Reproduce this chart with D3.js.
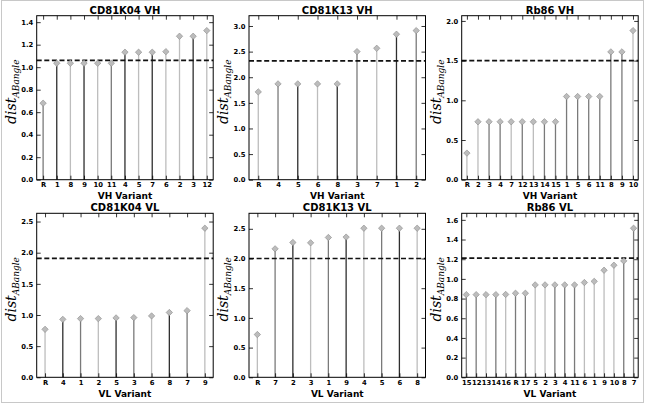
<!DOCTYPE html>
<html>
<head>
<meta charset="utf-8">
<script src="https://cdn.jsdelivr.net/npm/d3@7"></script>
<style>
  html, body { margin: 0; padding: 0; background: #fff; }
  svg { display: block; }
</style>
</head>
<body>
<svg id="chart"></svg>
<script>
// Per-panel data: category order, stem heights, stem tone group, threshold
const k04VhLabels = ["R", "1", "8", "9", "10", "11", "4", "5", "7", "6", "2", "3", "12"]
const k04VhValues = [0.68, 1.035, 1.035, 1.035, 1.035, 1.035, 1.133, 1.133, 1.133, 1.138, 1.275, 1.275, 1.325]
const k04VhTone = ["m", "d", "l", "d", "l", "m", "d", "l", "d", "l", "l", "d", "l"]
const k04VhCut = 1.06

const k13VhLabels = ["R", "4", "5", "6", "8", "3", "7", "1", "2"]
const k13VhValues = [1.714, 1.87, 1.87, 1.87, 1.87, 2.5, 2.565, 2.84, 2.91]
const k13VhTone = ["l", "m", "d", "l", "d", "m", "l", "d", "m"]
const k13VhCut = 2.32

const rbVhLabels = ["R", "2", "3", "4", "7", "12", "13", "14", "15", "1", "5", "6", "11", "8", "9", "10"]
const rbVhValues = [0.335, 0.73, 0.73, 0.73, 0.73, 0.73, 0.73, 0.73, 0.73, 1.048, 1.048, 1.048, 1.048, 1.61, 1.61, 1.878]
const rbVhTone = ["l", "l", "m", "m", "l", "m", "l", "m", "m", "m", "m", "m", "m", "m", "m", "l"]
const rbVhCut = 1.5

const k04VlLabels = ["R", "4", "1", "2", "5", "3", "6", "8", "7", "9"]
const k04VlValues = [0.77, 0.93, 0.942, 0.942, 0.953, 0.958, 0.985, 1.04, 1.07, 2.393]
const k04VlTone = ["l", "d", "m", "l", "d", "m", "l", "d", "m", "l"]
const k04VlCut = 1.91

const k13VlLabels = ["R", "7", "2", "3", "1", "9", "4", "5", "6", "8"]
const k13VlValues = [0.72, 2.163, 2.27, 2.264, 2.354, 2.36, 2.51, 2.51, 2.51, 2.51]
const k13VlTone = ["l", "m", "d", "l", "m", "d", "l", "m", "d", "l"]
const k13VlCut = 2.0

const rbVlLabels = ["15", "12", "13", "14", "16", "R", "17", "5", "2", "3", "4", "11", "6", "1", "9", "10", "8", "7"]
const rbVlValues = [0.84, 0.84, 0.84, 0.84, 0.842, 0.854, 0.854, 0.939, 0.939, 0.939, 0.939, 0.939, 0.963, 0.975, 1.088, 1.139, 1.183, 1.515]
const rbVlTone = ["m", "m", "l", "m", "l", "m", "m", "l", "l", "m", "m", "m", "l", "l", "l", "l", "m", "m"]
const rbVlCut = 1.21

// Y tick labels per panel
const k04VhTicks = [0, 0.2, 0.4, 0.6, 0.8, 1.0, 1.2, 1.4]
const k13VhTicks = [0, 0.5, 1.0, 1.5, 2.0, 2.5, 3.0]
const rbVhTicks = [0, 0.5, 1.0, 1.5, 2.0]
const k04VlTicks = [0, 0.5, 1.0, 1.5, 2.0, 2.5]
const k13VlTicks = [0, 0.5, 1.0, 1.5, 2.0, 2.5]
const rbVlTicks = [0, 0.2, 0.4, 0.6, 0.8, 1.0, 1.2, 1.4, 1.6]

const W = 646
const H = 405
const COL_X = [36.7, 249, 461.7]
const ROW_Y = [15.7, 213.3]
const PW = 176.5
const PH = 164

const FONT = "'DejaVu Sans', sans-serif"
const tone = d3.scaleOrdinal().domain(["d", "m", "l"]).range(["#2e2e2e", "#7a7a7a", "#bdbdbd"])

const panels = [
  { title: "CD81K04 VH", xl: "VH Variant", labels: k04VhLabels, values: k04VhValues, tones: k04VhTone, cut: k04VhCut, ticks: k04VhTicks, col: 0, row: 0 },
  { title: "CD81K13 VH", xl: "VH Variant", labels: k13VhLabels, values: k13VhValues, tones: k13VhTone, cut: k13VhCut, ticks: k13VhTicks, col: 1, row: 0 },
  { title: "Rb86 VH", xl: "VH Variant", labels: rbVhLabels, values: rbVhValues, tones: rbVhTone, cut: rbVhCut, ticks: rbVhTicks, col: 2, row: 0 },
  { title: "CD81K04 VL", xl: "VL Variant", labels: k04VlLabels, values: k04VlValues, tones: k04VlTone, cut: k04VlCut, ticks: k04VlTicks, col: 0, row: 1 },
  { title: "CD81K13 VL", xl: "VL Variant", labels: k13VlLabels, values: k13VlValues, tones: k13VlTone, cut: k13VlCut, ticks: k13VlTicks, col: 1, row: 1 },
  { title: "Rb86 VL", xl: "VL Variant", labels: rbVlLabels, values: rbVlValues, tones: rbVlTone, cut: rbVlCut, ticks: rbVlTicks, col: 2, row: 1 },
]

const svg = d3.select("#chart").attr("width", W).attr("height", H)

svg.append("rect").attr("width", W).attr("height", H).attr("fill", "#fff")
// thin grey frame around the whole figure
svg.append("rect")
  .attr("x", 1.5).attr("y", 0.5).attr("width", W - 4).attr("height", H - 3)
  .attr("fill", "none").attr("stroke", "#c8c8c8").attr("stroke-width", 1)

panels.forEach(drawPanel)

function drawPanel(p) {
  const g = svg.append("g")
    .attr("transform", `translate(${COL_X[p.col]},${ROW_Y[p.row]})`)

  const x = d3.scalePoint().domain(p.labels).range([0, PW]).padding(0.47)
  const y = d3.scaleLinear().domain([0, d3.max(p.values) * 1.1]).range([PH, 0])
  const data = p.labels.map((l, i) => ({ label: l, value: p.values[i], tone: p.tones[i] }))

  // stems
  g.selectAll("line.stem").data(data).join("line")
    .attr("class", "stem")
    .attr("x1", (d) => x(d.label)).attr("x2", (d) => x(d.label))
    .attr("y1", y(0)).attr("y2", (d) => y(d.value))
    .attr("stroke", (d) => tone(d.tone))
    .attr("stroke-width", 1.3)

  // threshold line
  g.append("line")
    .attr("x1", 0).attr("x2", PW)
    .attr("y1", y(p.cut)).attr("y2", y(p.cut))
    .attr("stroke", "#111").attr("stroke-width", 1.7)
    .attr("stroke-dasharray", "5,2.6")

  // diamond markers
  const diamond = d3.symbol().type(d3.symbolDiamond2).size(26)
  g.selectAll("path.mark").data(data).join("path")
    .attr("class", "mark")
    .attr("d", diamond)
    .attr("transform", (d) => `translate(${x(d.label)},${y(d.value)})`)
    .attr("fill", "#bcbcbc").attr("stroke", "#8a8a8a").attr("stroke-width", 0.6)

  // axes: inward ticks on all four sides
  const fmt = d3.format(".1f")
  const styleAxis = (sel) => {
    sel.select(".domain").remove()
    sel.selectAll(".tick line").attr("stroke", "#000").attr("stroke-width", 0.8)
    sel.selectAll("text").attr("font-family", FONT).attr("font-weight", "bold")
      .attr("font-size", 6.8).attr("fill", "#000")
  }
  g.append("g").call(d3.axisLeft(y).tickValues(p.ticks).tickFormat(fmt).tickSizeInner(-4).tickPadding(3.5))
    .call(styleAxis)
  g.append("g").attr("transform", `translate(${PW},0)`)
    .call(d3.axisRight(y).tickValues(p.ticks).tickFormat("").tickSizeInner(-4))
    .call(styleAxis)
  g.append("g").attr("transform", `translate(0,${PH})`)
    .call(d3.axisBottom(x).tickSizeInner(-4).tickPadding(2.5))
    .call(styleAxis)
  g.append("g")
    .call(d3.axisTop(x).tickFormat("").tickSizeInner(-4))
    .call(styleAxis)

  g.append("rect")
    .attr("width", PW).attr("height", PH)
    .attr("fill", "none").attr("stroke", "#000").attr("stroke-width", 1)

  // title
  g.append("text")
    .attr("x", PW / 2).attr("y", -2)
    .attr("text-anchor", "middle")
    .attr("font-family", FONT).attr("font-weight", "bold").attr("font-size", 10)
    .text(p.title)

  // x label
  g.append("text")
    .attr("x", PW / 2).attr("y", PH + 19.5)
    .attr("text-anchor", "middle")
    .attr("font-family", FONT).attr("font-weight", "bold").attr("font-size", 9)
    .text(p.xl)

  // y label: dist_{ABangle}
  const yl = g.append("text")
    .attr("transform", `translate(-21,${PH / 2 - 6}) rotate(-90)`)
    .attr("text-anchor", "middle")
    .attr("font-family", "'DejaVu Serif', serif").attr("font-style", "italic")
    .attr("font-size", 14)
  yl.append("tspan").text("dist")
  yl.append("tspan").attr("font-size", 9).attr("dy", 3).text("ABangle")
}
</script>
</body>
</html>
